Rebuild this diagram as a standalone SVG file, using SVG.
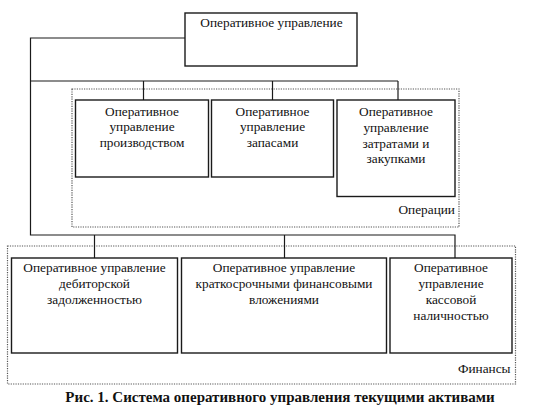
<svg xmlns="http://www.w3.org/2000/svg" width="544" height="409" viewBox="0 0 544 409">
<style>
.box{fill:#fff;stroke:#1a1a1a;stroke-width:1.4}
.grp{fill:none;stroke:#555;stroke-width:1.2;stroke-dasharray:1.2 1.2}
.ln{fill:none;stroke:#1a1a1a;stroke-width:1.2}
text{font-family:"Liberation Serif","Times New Roman",serif;font-size:13.3px;fill:#111}
.c{text-anchor:middle}
.r{text-anchor:end}
.cap{font-weight:bold;font-size:15px;text-anchor:middle}
</style>
<rect width="544" height="409" fill="#fff"/>
<g id="group-operations">
<rect class="grp" x="72" y="89" width="387" height="138"/>
<text class="r" x="455" y="213.5">Операции</text>
</g>
<g id="group-finance">
<rect class="grp" x="7.5" y="246" width="508" height="138"/>
<text class="r" x="510.5" y="372.5">Финансы</text>
</g>
<g id="connectors">
<polyline class="ln" points="185,38 30.5,38 30.5,235 455,235 455,258"/>
<line class="ln" x1="30.5" y1="81" x2="398" y2="81"/>
<line class="ln" x1="143.5" y1="81" x2="143.5" y2="100"/>
<line class="ln" x1="272.5" y1="81" x2="272.5" y2="100"/>
<line class="ln" x1="398" y1="81" x2="398" y2="100"/>
<line class="ln" x1="94.5" y1="235" x2="94.5" y2="258"/>
<line class="ln" x1="284.5" y1="235" x2="284.5" y2="258"/>
</g>
<g id="node-top">
<rect class="box" x="185" y="13" width="172" height="53"/>
<text class="c" x="271.5" y="26.5">Оперативное управление</text>
</g>
<g id="node-production">
<rect class="box" x="75.5" y="100" width="133" height="77"/>
<text class="c" x="142" y="115.5">Оперативное</text>
<text class="c" x="142" y="131">управление</text>
<text class="c" x="142" y="146.5">производством</text>
</g>
<g id="node-stocks">
<rect class="box" x="211.5" y="100" width="122" height="77"/>
<text class="c" x="272.5" y="115.5">Оперативное</text>
<text class="c" x="272.5" y="131">управление</text>
<text class="c" x="272.5" y="146.5">запасами</text>
</g>
<g id="node-costs">
<rect class="box" x="337" y="100" width="118" height="96.5"/>
<text class="c" x="396" y="115.5">Оперативное</text>
<text class="c" x="396" y="131.5">управление</text>
<text class="c" x="396" y="147.5">затратами и</text>
<text class="c" x="396" y="162.5">закупками</text>
</g>
<g id="node-receivables">
<rect class="box" x="11.5" y="258" width="166" height="95"/>
<text class="c" x="94.5" y="272">Оперативное управление</text>
<text class="c" x="94.5" y="288">дебиторской</text>
<text class="c" x="94.5" y="304">задолженностью</text>
</g>
<g id="node-investments">
<rect class="box" x="181.5" y="258" width="205" height="95"/>
<text class="c" x="284" y="272">Оперативное управление</text>
<text class="c" x="284" y="288">краткосрочными финансовыми</text>
<text class="c" x="284" y="304">вложениями</text>
</g>
<g id="node-cash">
<rect class="box" x="390" y="258" width="122" height="95"/>
<text class="c" x="451" y="272">Оперативное</text>
<text class="c" x="451" y="288">управление</text>
<text class="c" x="451" y="304">кассовой</text>
<text class="c" x="451" y="319.5">наличностью</text>
</g>
<text class="cap" x="280" y="401.5">Рис. 1. Система оперативного управления текущими активами</text>
</svg>
